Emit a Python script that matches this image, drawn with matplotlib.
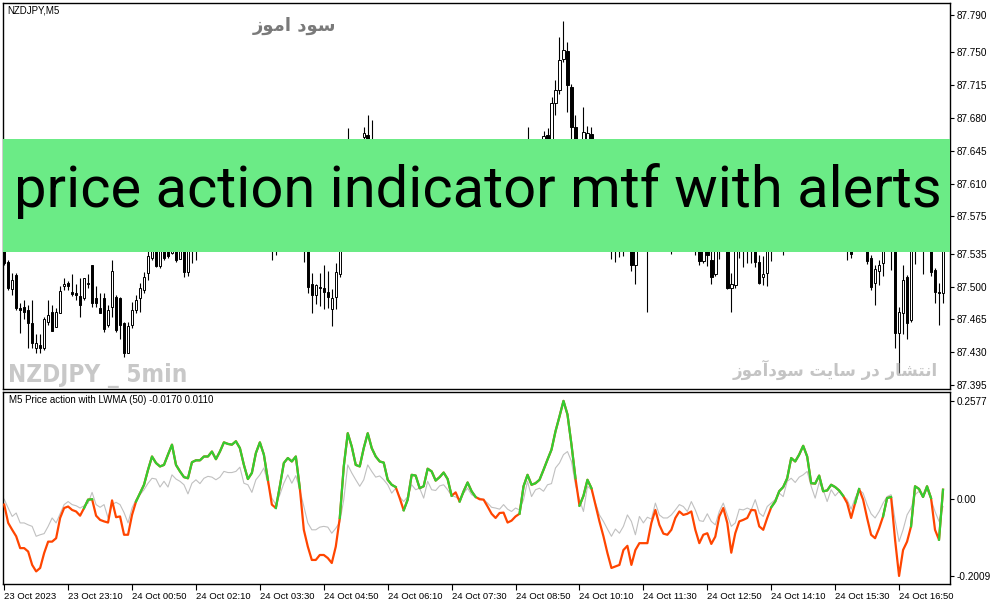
import numpy as np
import matplotlib.pyplot as plt
from matplotlib.patches import Rectangle

# NZDJPY M5 candles (bar index 0 = 23 Oct 21:50)
opens = [
    87.539, 87.526, 87.497, 87.512, 87.477, 87.478, 87.475, 87.461, 87.435, 87.438,
    87.435, 87.462, 87.473, 87.457, 87.472, 87.501, 87.504, 87.494, 87.493, 87.490,
    87.488, 87.503, 87.523, 87.488, 87.477, 87.488, 87.459, 87.478, 87.489, 87.488,
    87.461, 87.429, 87.459, 87.475, 87.488, 87.496, 87.515, 87.531, 87.548, 87.522,
    87.546, 87.539, 87.536, 87.546, 87.530, 87.548, 87.516, 87.544, 87.546, 87.550,
    87.558, 87.566, 87.560, 87.574, 87.582, 87.575, 87.590, 87.595, 87.590, 87.582,
    87.592, 87.600, 87.586, 87.572, 87.578, 87.564, 87.554, 87.560, 87.548, 87.556,
    87.574, 87.580, 87.576, 87.566, 87.558, 87.549, 87.545, 87.503, 87.491, 87.500,
    87.499, 87.494, 87.476, 87.489, 87.514, 87.550, 87.570, 87.612, 87.620, 87.632,
    87.660, 87.662, 87.640, 87.650, 87.635, 87.620, 87.606, 87.592, 87.598, 87.588,
    87.575, 87.585, 87.600, 87.594, 87.604, 87.612, 87.600, 87.610, 87.620, 87.614,
    87.622, 87.630, 87.624, 87.612, 87.606, 87.614, 87.608, 87.598, 87.590, 87.596,
    87.588, 87.580, 87.586, 87.574, 87.580, 87.588, 87.596, 87.608, 87.618, 87.628,
    87.635, 87.640, 87.648, 87.642, 87.646, 87.644, 87.662, 87.652, 87.696, 87.710,
    87.743, 87.752, 87.713, 87.670, 87.645, 87.640, 87.650, 87.663, 87.645, 87.618,
    87.596, 87.575, 87.562, 87.552, 87.558, 87.548, 87.556, 87.550, 87.523, 87.545,
    87.556, 87.548, 87.555, 87.565, 87.572, 87.566, 87.570, 87.576, 87.566, 87.572,
    87.565, 87.560, 87.556, 87.552, 87.548, 87.527, 87.545, 87.528, 87.514, 87.545,
    87.552, 87.556, 87.499, 87.502, 87.548, 87.544, 87.550, 87.546, 87.552, 87.526,
    87.510, 87.515, 87.546, 87.550, 87.558, 87.565, 87.560, 87.570, 87.582, 87.590,
    87.596, 87.606, 87.600, 87.610, 87.616, 87.604, 87.596, 87.605, 87.594, 87.582,
    87.570, 87.558, 87.550, 87.542, 87.552, 87.560, 87.554, 87.531, 87.504, 87.517,
    87.525, 87.548, 87.548, 87.540, 87.450, 87.472, 87.510, 87.464, 87.545, 87.548,
    87.554, 87.550, 87.546, 87.518, 87.494, 87.493,
]
highs = [
    87.544, 87.528, 87.515, 87.515, 87.482, 87.486, 87.480, 87.486, 87.449, 87.449,
    87.468, 87.486, 87.480, 87.477, 87.501, 87.509, 87.506, 87.513, 87.503, 87.509,
    87.509, 87.514, 87.523, 87.501, 87.493, 87.493, 87.480, 87.528, 87.491, 87.489,
    87.462, 87.462, 87.484, 87.491, 87.504, 87.516, 87.552, 87.556, 87.556, 87.552,
    87.556, 87.548, 87.548, 87.554, 87.552, 87.556, 87.548, 87.552, 87.556, 87.562,
    87.570, 87.576, 87.578, 87.586, 87.590, 87.594, 87.600, 87.604, 87.598, 87.596,
    87.606, 87.604, 87.592, 87.582, 87.585, 87.570, 87.566, 87.572, 87.562, 87.578,
    87.586, 87.592, 87.583, 87.572, 87.565, 87.556, 87.550, 87.515, 87.503, 87.515,
    87.523, 87.517, 87.497, 87.525, 87.556, 87.575, 87.669, 87.630, 87.640, 87.654,
    87.670, 87.683, 87.678, 87.654, 87.648, 87.632, 87.615, 87.604, 87.610, 87.596,
    87.590, 87.603, 87.612, 87.608, 87.618, 87.620, 87.614, 87.626, 87.630, 87.625,
    87.636, 87.640, 87.632, 87.620, 87.618, 87.622, 87.615, 87.606, 87.600, 87.604,
    87.595, 87.592, 87.590, 87.584, 87.592, 87.600, 87.612, 87.622, 87.632, 87.640,
    87.648, 87.670, 87.655, 87.652, 87.654, 87.666, 87.669, 87.702, 87.721, 87.767,
    87.784, 87.761, 87.716, 87.683, 87.652, 87.692, 87.671, 87.670, 87.652, 87.625,
    87.604, 87.585, 87.570, 87.565, 87.570, 87.562, 87.568, 87.556, 87.552, 87.560,
    87.566, 87.562, 87.570, 87.578, 87.580, 87.575, 87.582, 87.584, 87.578, 87.580,
    87.574, 87.570, 87.566, 87.562, 87.555, 87.552, 87.550, 87.545, 87.550, 87.556,
    87.562, 87.560, 87.515, 87.555, 87.560, 87.556, 87.560, 87.556, 87.558, 87.534,
    87.533, 87.552, 87.556, 87.562, 87.570, 87.575, 87.575, 87.586, 87.595, 87.602,
    87.612, 87.618, 87.614, 87.622, 87.626, 87.612, 87.610, 87.612, 87.600, 87.590,
    87.578, 87.568, 87.556, 87.558, 87.566, 87.570, 87.560, 87.534, 87.523, 87.528,
    87.555, 87.560, 87.556, 87.548, 87.478, 87.523, 87.512, 87.552, 87.556, 87.560,
    87.562, 87.560, 87.552, 87.520, 87.504, 87.550,
]
lows = [
    87.523, 87.496, 87.491, 87.475, 87.451, 87.465, 87.434, 87.435, 87.429, 87.429,
    87.432, 87.459, 87.453, 87.457, 87.472, 87.496, 87.496, 87.490, 87.486, 87.468,
    87.486, 87.498, 87.478, 87.478, 87.472, 87.452, 87.457, 87.468, 87.452, 87.444,
    87.425, 87.429, 87.456, 87.472, 87.473, 87.493, 87.507, 87.528, 87.521, 87.520,
    87.528, 87.531, 87.535, 87.526, 87.530, 87.510, 87.511, 87.525, 87.528, 87.544,
    87.552, 87.556, 87.556, 87.568, 87.570, 87.572, 87.582, 87.586, 87.576, 87.578,
    87.588, 87.582, 87.568, 87.563, 87.560, 87.549, 87.545, 87.528, 87.534, 87.550,
    87.566, 87.570, 87.561, 87.553, 87.545, 87.526, 87.493, 87.472, 87.481, 87.479,
    87.476, 87.477, 87.458, 87.476, 87.510, 87.545, 87.565, 87.595, 87.610, 87.622,
    87.640, 87.630, 87.628, 87.630, 87.615, 87.600, 87.588, 87.580, 87.585, 87.570,
    87.566, 87.580, 87.590, 87.588, 87.598, 87.596, 87.594, 87.604, 87.608, 87.605,
    87.615, 87.618, 87.608, 87.600, 87.598, 87.602, 87.594, 87.586, 87.582, 87.584,
    87.575, 87.572, 87.570, 87.566, 87.576, 87.582, 87.592, 87.602, 87.612, 87.620,
    87.626, 87.632, 87.636, 87.634, 87.638, 87.640, 87.645, 87.648, 87.683, 87.706,
    87.740, 87.686, 87.655, 87.635, 87.630, 87.635, 87.645, 87.638, 87.612, 87.590,
    87.570, 87.556, 87.530, 87.526, 87.532, 87.533, 87.545, 87.517, 87.503, 87.540,
    87.542, 87.473, 87.548, 87.558, 87.560, 87.556, 87.562, 87.535, 87.558, 87.560,
    87.552, 87.548, 87.546, 87.534, 87.523, 87.525, 87.522, 87.503, 87.511, 87.530,
    87.542, 87.497, 87.473, 87.498, 87.531, 87.521, 87.525, 87.525, 87.521, 87.503,
    87.502, 87.501, 87.527, 87.542, 87.550, 87.534, 87.552, 87.565, 87.575, 87.582,
    87.590, 87.596, 87.594, 87.602, 87.600, 87.590, 87.588, 87.590, 87.578, 87.566,
    87.552, 87.528, 87.531, 87.540, 87.546, 87.548, 87.524, 87.496, 87.480, 87.502,
    87.511, 87.540, 87.518, 87.435, 87.406, 87.449, 87.444, 87.462, 87.524, 87.540,
    87.513, 87.542, 87.511, 87.482, 87.459, 87.482,
]
closes = [
    87.525, 87.499, 87.507, 87.477, 87.475, 87.473, 87.461, 87.440, 87.440, 87.435,
    87.465, 87.470, 87.453, 87.473, 87.495, 87.503, 87.501, 87.492, 87.491, 87.480,
    87.509, 87.504, 87.483, 87.482, 87.472, 87.455, 87.475, 87.517, 87.454, 87.459,
    87.429, 87.458, 87.475, 87.486, 87.499, 87.510, 87.533, 87.548, 87.522, 87.546,
    87.531, 87.533, 87.544, 87.528, 87.548, 87.516, 87.544, 87.546, 87.550, 87.558,
    87.566, 87.560, 87.574, 87.582, 87.575, 87.590, 87.595, 87.590, 87.582, 87.592,
    87.600, 87.586, 87.572, 87.578, 87.564, 87.554, 87.560, 87.548, 87.556, 87.574,
    87.580, 87.576, 87.566, 87.558, 87.549, 87.545, 87.500, 87.491, 87.502, 87.499,
    87.494, 87.489, 87.488, 87.516, 87.550, 87.570, 87.612, 87.620, 87.632, 87.652,
    87.664, 87.640, 87.650, 87.635, 87.620, 87.606, 87.592, 87.598, 87.588, 87.575,
    87.585, 87.600, 87.594, 87.604, 87.612, 87.600, 87.610, 87.620, 87.614, 87.622,
    87.630, 87.624, 87.612, 87.606, 87.614, 87.608, 87.598, 87.590, 87.596, 87.588,
    87.580, 87.586, 87.574, 87.580, 87.588, 87.596, 87.608, 87.618, 87.628, 87.635,
    87.640, 87.648, 87.642, 87.646, 87.644, 87.661, 87.652, 87.696, 87.710, 87.742,
    87.753, 87.715, 87.670, 87.645, 87.638, 87.665, 87.664, 87.645, 87.618, 87.596,
    87.575, 87.562, 87.552, 87.558, 87.548, 87.556, 87.550, 87.523, 87.545, 87.556,
    87.548, 87.555, 87.565, 87.572, 87.566, 87.570, 87.576, 87.566, 87.572, 87.565,
    87.560, 87.556, 87.552, 87.548, 87.527, 87.545, 87.534, 87.510, 87.545, 87.552,
    87.556, 87.499, 87.503, 87.548, 87.544, 87.550, 87.546, 87.552, 87.526, 87.504,
    87.514, 87.546, 87.550, 87.558, 87.565, 87.560, 87.570, 87.582, 87.590, 87.596,
    87.606, 87.600, 87.610, 87.616, 87.604, 87.596, 87.605, 87.594, 87.582, 87.570,
    87.558, 87.550, 87.535, 87.552, 87.560, 87.554, 87.527, 87.500, 87.519, 87.523,
    87.548, 87.552, 87.540, 87.450, 87.473, 87.507, 87.461, 87.545, 87.548, 87.554,
    87.550, 87.546, 87.516, 87.494, 87.493, 87.545,
]

# indicator window: price action line and its LWMA(50)
pa_line = [
    -0.014, -0.062, -0.080, -0.097, -0.128, -0.128, -0.137, -0.172, -0.189, -0.180,
    -0.141, -0.111, -0.111, -0.102, -0.049, -0.023, -0.019, -0.028, -0.032, -0.043,
    -0.023, -0.001, 0.000, -0.043, -0.054, -0.058, -0.061, -0.003, -0.047, -0.045,
    -0.093, -0.093, -0.041, -0.006, 0.016, 0.038, 0.077, 0.112, 0.095, 0.086,
    0.090, 0.117, 0.143, 0.090, 0.073, 0.058, 0.055, 0.097, 0.102, 0.102,
    0.112, 0.112, 0.125, 0.105, 0.125, 0.149, 0.145, 0.143, 0.152, 0.134,
    0.090, 0.053, 0.069, 0.121, 0.149, 0.117, 0.051, -0.014, -0.023, 0.034,
    0.095, 0.108, 0.099, 0.112, 0.029, -0.080, -0.124, -0.159, -0.159, -0.146,
    -0.146, -0.154, -0.167, -0.124, -0.049, 0.086, 0.173, 0.138, 0.090, 0.086,
    0.134, 0.173, 0.134, 0.112, 0.099, 0.096, 0.051, 0.038, 0.032, 0.003,
    -0.029, -0.001, 0.064, 0.062, 0.029, 0.034, 0.080, 0.073, 0.049, 0.058,
    0.070, 0.053, 0.009, 0.018, -0.006, 0.021, 0.044, 0.021, 0.006, 0.000,
    -0.001, -0.019, -0.038, -0.049, -0.036, -0.035, -0.061, -0.056, -0.045, -0.038,
    0.034, 0.064, 0.038, 0.042, 0.051, 0.077, 0.104, 0.130, 0.178, 0.217,
    0.2577, 0.222, 0.143, 0.055, -0.017, 0.009, 0.051, 0.029, -0.014, -0.058,
    -0.097, -0.141, -0.180, -0.176, -0.172, -0.133, -0.122, -0.172, -0.133, -0.115,
    -0.115, -0.115, -0.062, -0.028, -0.067, -0.090, -0.093, -0.080, -0.049, -0.032,
    -0.041, -0.038, -0.032, -0.080, -0.115, -0.093, -0.089, -0.117, -0.098, -0.045,
    -0.023, -0.062, -0.140, -0.089, -0.058, -0.054, -0.049, -0.028, -0.029, -0.071,
    -0.080, -0.049, -0.021, -0.006, 0.021, 0.032, 0.055, 0.108, 0.099, 0.117,
    0.140, 0.112, 0.042, 0.041, 0.062, 0.021, 0.023, 0.038, 0.032, 0.023,
    0.009, -0.010, -0.049, -0.010, 0.027, -0.001, -0.049, -0.093, -0.102, -0.076,
    -0.045, 0.003, 0.006, -0.106, -0.2009, -0.133, -0.111, -0.071, 0.034, 0.027,
    0.006, 0.034, 0.003, -0.080, -0.106, 0.025,
]
lwma_line = [
    0.000, -0.023, -0.045, -0.036, -0.062, -0.062, -0.067, -0.071, -0.097, -0.093,
    -0.090, -0.071, -0.049, -0.062, -0.038, -0.014, -0.006, -0.014, -0.017, -0.023,
    -0.017, -0.010, 0.018, -0.014, -0.021, -0.014, -0.049, -0.014, -0.008, -0.014,
    -0.035, -0.062, -0.023, -0.001, 0.012, 0.025, 0.042, 0.055, 0.053, 0.032,
    0.047, 0.032, 0.064, 0.053, 0.047, 0.038, 0.014, 0.042, 0.051, 0.041,
    0.055, 0.060, 0.058, 0.051, 0.058, 0.073, 0.070, 0.070, 0.073, 0.084,
    0.042, 0.038, 0.018, 0.051, 0.064, 0.082, 0.042, 0.003, -0.014, 0.012,
    0.042, 0.064, 0.042, 0.062, 0.025, -0.019, -0.062, -0.080, -0.080, -0.073,
    -0.071, -0.073, -0.089, -0.076, -0.060, -0.001, 0.090, 0.069, 0.051, 0.034,
    0.051, 0.090, 0.073, 0.058, 0.061, 0.051, 0.038, 0.016, 0.029, 0.006,
    -0.006, 0.007, 0.038, 0.025, 0.029, 0.003, 0.047, 0.025, 0.023, 0.035,
    0.038, 0.025, 0.009, 0.006, -0.001, 0.016, 0.029, 0.012, 0.006, 0.003,
    -0.001, -0.010, -0.021, -0.023, -0.026, -0.014, -0.026, -0.032, -0.023, -0.028,
    -0.001, 0.047, 0.007, 0.025, 0.029, 0.021, 0.038, 0.041, 0.082, 0.095,
    0.117, 0.125, 0.099, 0.038, -0.001, -0.032, 0.034, 0.025, -0.010, -0.041,
    -0.058, -0.078, -0.097, -0.078, -0.089, -0.071, -0.041, -0.058, -0.093, -0.045,
    -0.062, -0.047, -0.052, -0.010, -0.041, -0.049, -0.049, -0.041, -0.028, -0.014,
    -0.019, -0.032, -0.006, -0.028, -0.056, -0.058, -0.038, -0.058, -0.067, -0.032,
    -0.010, -0.041, -0.071, -0.062, -0.026, -0.028, -0.023, -0.028, -0.001, -0.036,
    -0.045, -0.019, -0.010, -0.001, 0.016, 0.007, 0.047, 0.055, 0.044, 0.058,
    0.064, 0.073, 0.034, 0.003, 0.044, 0.025, -0.006, 0.025, 0.009, 0.021,
    0.009, -0.001, -0.026, 0.003, 0.025, 0.016, -0.014, -0.038, -0.049, -0.032,
    -0.010, 0.007, 0.012, -0.054, -0.111, -0.080, -0.041, -0.023, 0.012, 0.021,
    0.007, 0.025, -0.001, -0.032, -0.058, -0.019,
]
# bar ranges where the line is drawn green
green_spans = [(20, 22), (33, 66), (68, 74), (84, 98), (100, 112), (114, 118),
               (129, 143), (144, 147), (192, 210), (213, 214), (220, 222),
               (227, 232), (234, 235)]

price_ticks = [87.790, 87.750, 87.715, 87.680, 87.645, 87.610, 87.575,
               87.535, 87.500, 87.465, 87.430, 87.395]
time_labels = ['23 Oct 2023', '23 Oct 23:10', '24 Oct 00:50', '24 Oct 02:10',
               '24 Oct 03:30', '24 Oct 04:50', '24 Oct 06:10', '24 Oct 07:30',
               '24 Oct 08:50', '24 Oct 10:10', '24 Oct 11:30', '24 Oct 12:50',
               '24 Oct 14:10', '24 Oct 15:30', '24 Oct 16:50']

assert len(opens) == len(highs) == len(lows) == len(closes) == 236
assert len(pa_line) == len(lwma_line) == 236

# tiny arabic shaper (matplotlib has no shaping / bidi)
AR_FORMS = {
    'ا': ('\uFE8D', '\uFE8E'), 'آ': ('\uFE81', '\uFE82'),
    'د': ('\uFEA9', '\uFEAA'), 'ر': ('\uFEAD', '\uFEAE'),
    'ز': ('\uFEAF', '\uFEB0'), 'و': ('\uFEED', '\uFEEE'),
    'ت': ('\uFE95', '\uFE96', '\uFE97', '\uFE98'),
    'س': ('\uFEB1', '\uFEB2', '\uFEB3', '\uFEB4'),
    'ش': ('\uFEB5', '\uFEB6', '\uFEB7', '\uFEB8'),
    'م': ('\uFEE1', '\uFEE2', '\uFEE3', '\uFEE4'),
    'ن': ('\uFEE5', '\uFEE6', '\uFEE7', '\uFEE8'),
    'ی': ('\uFBFC', '\uFBFD', '\uFBFE', '\uFBFF'),
}


def shape_ar(text):
    out = []
    for k, ch in enumerate(text):
        f = AR_FORMS.get(ch)
        if f is None:
            out.append(ch)
            continue
        prev = text[k - 1] if k > 0 else ''
        nxt = text[k + 1] if k + 1 < len(text) else ''
        jp = prev in AR_FORMS and len(AR_FORMS[prev]) == 4
        jn = len(f) == 4 and nxt in AR_FORMS
        if jp and jn:
            out.append(f[3])
        elif jp:
            out.append(f[1])
        elif jn:
            out.append(f[2])
        else:
            out.append(f[0])
    return ''.join(reversed(out))


def main():
    plt.rcParams['font.family'] = ['DejaVu Sans']
    small = 'Liberation Sans'
    o = np.array(opens)
    h = np.array(highs)
    l = np.array(lows)
    c = np.array(closes)
    x = np.arange(len(o))

    fig = plt.figure(figsize=(9.91, 6.05), dpi=100)
    ax = fig.add_axes([3 / 991, 1 - 389 / 605, 947 / 991, 386 / 605])
    ax2 = fig.add_axes([3 / 991, 1 - 584 / 605, 947 / 991, 192 / 605])

    # candles
    ax.vlines(x, l, h, color='black', lw=0.8, zorder=2)
    bull = c >= o
    body = np.maximum(np.abs(c - o), 0.0004)
    ax.bar(x, body, bottom=np.minimum(o, c), width=0.62,
           color=np.where(bull, 'white', 'black'), edgecolor='black',
           linewidth=0.7, zorder=3)
    ax.set_xlim(-0.3, 236.75)
    ax.set_ylim(87.3907, 87.8028)
    ax.yaxis.tick_right()
    ax.set_yticks(price_ticks)
    ax.set_yticklabels(['%.3f' % p for p in price_ticks], family=small)
    ax.set_xticks([])
    ax.tick_params(axis='y', direction='out', length=3, pad=2, labelsize=7.2)

    # banner
    ax.add_patch(Rectangle((0, 0.355), 1, 0.293, transform=ax.transAxes,
                           facecolor='#6beb86', edgecolor='none', zorder=5))
    ax.text(0.5016, 0.4715, 'price action indicator mtf with alerts',
            transform=ax.transAxes, ha='center', va='baseline',
            fontsize=41.7, family='Roboto', color='black', zorder=6)

    # watermarks
    ax.text(0.004, 0.993, 'NZDJPY,M5', transform=ax.transAxes, ha='left',
            va='top', fontsize=7, family=small, color='black')
    ax.text(0.308, 0.940, shape_ar('سود اموز'), transform=ax.transAxes,
            ha='center', va='center', fontsize=13, fontweight='bold',
            color='#7a7a7a')
    ax.text(0.005, 0.018, 'NZDJPY _ 5min', transform=ax.transAxes,
            ha='left', va='baseline', fontsize=17.5, fontweight='bold',
            fontstretch='condensed', color='#c8c8c8')
    ax.text(0.8786, 0.049, shape_ar('انتشار در سایت سودآموز'),
            transform=ax.transAxes, ha='center', va='center', fontsize=12,
            fontweight='bold', color='#c4c4c4')

    # indicator window
    pa = np.array(pa_line)
    ax2.plot(x, lwma_line, color='#c0c0c0', lw=0.8, zorder=2)
    ax2.plot(x, pa, color='#ff4500', lw=1.6, zorder=3)
    for a, b in green_spans:
        ax2.plot(x[a:b + 1], pa[a:b + 1], color='#32cd32', lw=1.6, zorder=4)
    ax2.set_xlim(-0.3, 236.75)
    ax2.set_ylim(-0.222, 0.281)
    ax2.yaxis.tick_right()
    ax2.set_yticks([0.2577, 0.0, -0.2009])
    ax2.set_yticklabels(['0.2577', '0.00', '-0.2009'], family=small)
    ax2.set_xticks(np.arange(0, 225, 16))
    ax2.set_xticklabels(time_labels, family=small)
    for lab in ax2.get_xticklabels():
        lab.set_horizontalalignment('left')
    ax2.tick_params(axis='y', direction='out', length=3, pad=2, labelsize=7.2)
    ax2.tick_params(axis='x', direction='out', length=4, pad=2, labelsize=6.8)
    ax2.text(0.006, 0.982, 'M5 Price action with LWMA (50) -0.0170 0.0110',
             transform=ax2.transAxes, ha='left', va='top', fontsize=7,
             family=small)

    for a_ in (ax, ax2):
        for s in a_.spines.values():
            s.set_linewidth(1.0)
            s.set_color('black')

    fig.savefig('out.png', dpi=100, facecolor='white')


if __name__ == "__main__":
    main()
